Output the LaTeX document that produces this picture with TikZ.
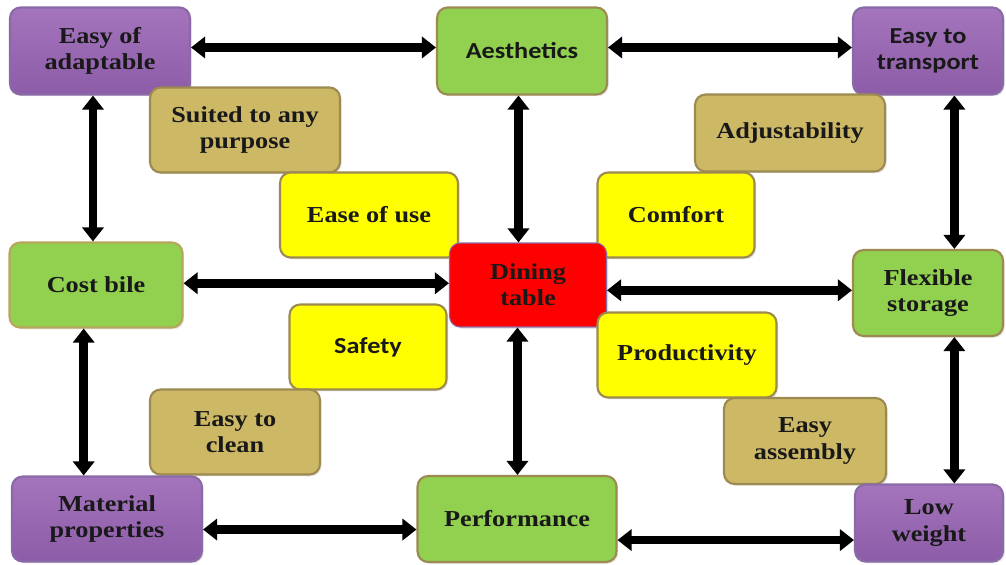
\documentclass[tikz,border=0pt]{standalone}
\usepackage{fontspec}
\setmainfont{Liberation Serif}[FakeStretch=1.15]
\newfontfamily\sansbox{Carlito}[FakeStretch=1.15]
\usetikzlibrary{arrows.meta,shadows}

\definecolor{purplebox}{HTML}{A474BC}
\definecolor{purpledark}{HTML}{8C5CA8}
\definecolor{purpleline}{HTML}{8A6AA6}
\definecolor{greenbox}{HTML}{92D050}
\definecolor{tanbox}{HTML}{CDB866}
\definecolor{olive}{HTML}{9C8A50}
\definecolor{yellowbox}{HTML}{FFFF00}

\tikzset{
  box/.style={rectangle, rounded corners=6pt, inner sep=0pt, align=center,
    line width=1.2pt, draw=olive, text=black!90,
    font=\fontsize{13}{15}\selectfont\bfseries,
    drop shadow={opacity=0.2, shadow xshift=1pt, shadow yshift=-1pt}},
  purplebox/.style={box, draw=purpleline, top color=purplebox, bottom color=purpledark},
  greenbox/.style={box, fill=greenbox},
  tanbox/.style={box, fill=tanbox},
  yellowbox/.style={box, fill=yellowbox},
  dbl/.style={line width=5pt, {Triangle[length=8pt,width=12pt]}-{Triangle[length=8pt,width=12pt]}}
}

\begin{document}
\begin{tikzpicture}[x=0.02cm, y=-0.02cm]

      \useasboundingbox (0,0) rectangle (1006,564);

      \begin{scope}
        \node[purplebox, minimum width=3.6cm, minimum height=1.74cm]  (adapt)   at (100,51)  {Easy of\\adaptable};
        \node[greenbox, minimum width=3.4cm, minimum height=1.74cm, font=\sansbox\fontsize{13}{15}\selectfont\bfseries] (aes) at (522,51) {Aesthetics};
        \node[purplebox, minimum width=3.0cm, minimum height=1.74cm, font=\sansbox\fontsize{13}{15}\selectfont\bfseries] (trans) at (928,51) {Easy to\\transport};
        \node[tanbox, minimum width=3.8cm, minimum height=1.7cm]     (suited)  at (245,130) {Suited to any\\purpose};
        \node[tanbox, minimum width=3.8cm, minimum height=1.54cm]    (adjust)  at (790,133) {Adjustability};
        \node[yellowbox, minimum width=3.56cm, minimum height=1.7cm] (ease)    at (369,215) {Ease of use};
        \node[yellowbox, minimum width=3.14cm, minimum height=1.7cm] (comfort) at (676,215) {Comfort};
        \node[greenbox, draw=tanbox!90!black, minimum width=3.46cm, minimum height=1.7cm] (cost) at (96,285) {Cost bile};
        \node[box, fill=red, draw=purpleline, line width=0.6pt, minimum width=3.14cm, minimum height=1.68cm] (dining) at (528,285) {Dining\\table};
        \node[greenbox, minimum width=3.0cm, minimum height=1.72cm]  (flex)    at (928,293) {Flexible\\storage};
        \node[yellowbox, minimum width=3.14cm, minimum height=1.7cm, font=\sansbox\fontsize{13}{15}\selectfont\bfseries] (safety) at (368,347) {Safety};
        \node[yellowbox, minimum width=3.58cm, minimum height=1.7cm] (prod)    at (687,355) {Productivity};
        \node[tanbox, minimum width=3.4cm, minimum height=1.7cm]     (clean)   at (235,432) {Easy to\\clean};
        \node[tanbox, minimum width=3.24cm, minimum height=1.72cm]   (assem)   at (805,441) {Easy\\assembly};
        \node[purplebox, minimum width=3.8cm, minimum height=1.7cm]  (mat)     at (107,519) {Material\\properties};
        \node[greenbox, minimum width=3.98cm, minimum height=1.72cm] (perf)    at (517,519) {Performance};
        \node[purplebox, minimum width=2.96cm, minimum height=1.54cm] (low)    at (929,523) {Low\\weight};
      \end{scope}

      % horizontal links
      \path[dbl] ([yshift=2pt]adapt.east) edge ([yshift=2pt]adapt.east -| aes.west);
      \path[dbl] ([yshift=2pt]aes.east)   edge ([yshift=2pt]aes.east -| trans.west);
      \path[dbl] ([yshift=1pt]cost.east)  edge ([yshift=1pt]cost.east -| dining.west);
      \path[dbl] ([yshift=-3pt]dining.east) edge ([yshift=-3pt]dining.east -| flex.west);
      \path[dbl] ([yshift=-6pt]mat.east)  edge ([yshift=-6pt]mat.east -| perf.west);
      \path[dbl] ([yshift=-12pt]perf.east) edge ([yshift=-12pt]perf.east -| low.west);

      % vertical links
      \path[dbl] ([xshift=-4pt]adapt.south) edge ([xshift=-4pt]adapt.south |- cost.north);
      \path[dbl] ([xshift=-2pt]aes.south)   edge ([xshift=-2pt]aes.south |- dining.north);
      \path[dbl] ([xshift=15pt]trans.south) edge ([xshift=15pt]trans.south |- flex.north);
      \path[dbl] ([xshift=-7pt]cost.south)  edge ([xshift=-7pt]cost.south |- mat.north);
      \path[dbl] ([xshift=-6pt]dining.south) edge ([xshift=-6pt]dining.south |- perf.north);
      \path[dbl] ([xshift=15pt]flex.south)  edge ([xshift=15pt]flex.south |- low.north);

    \end{tikzpicture}
\end{document}
